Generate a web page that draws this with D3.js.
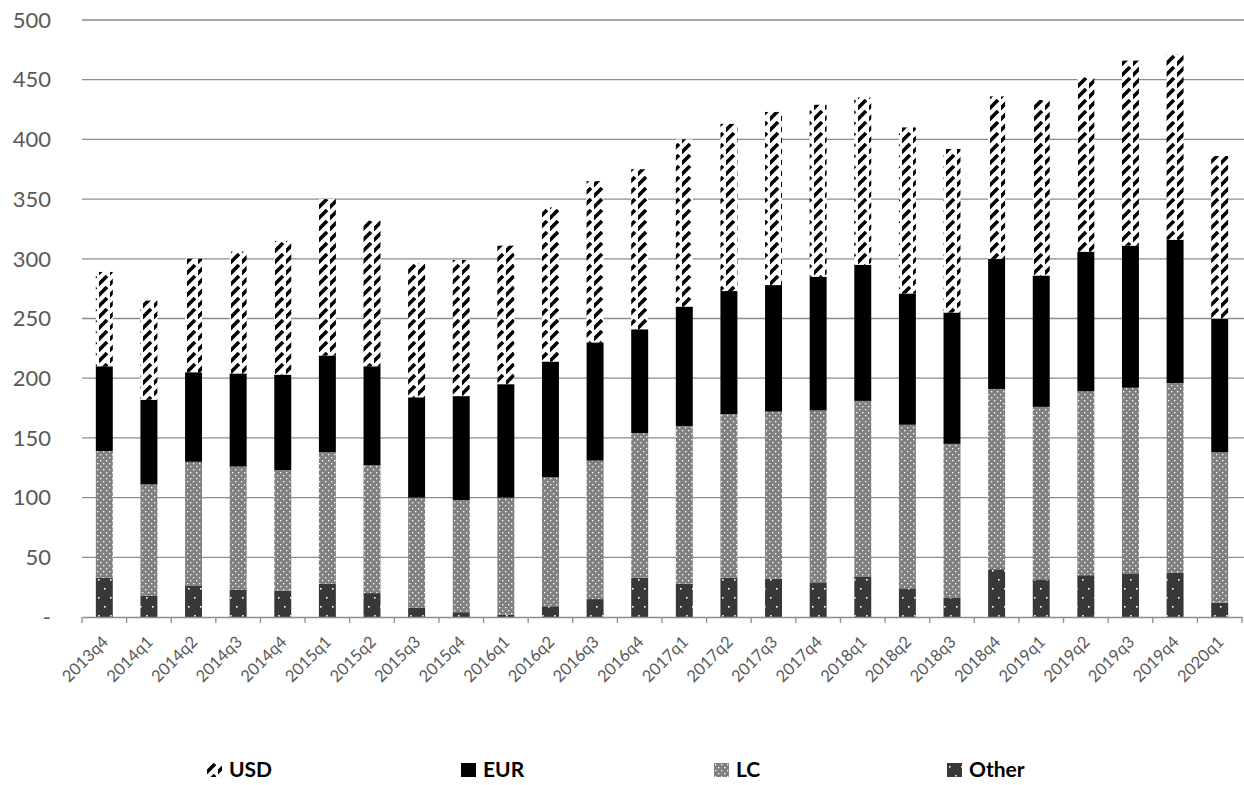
<!DOCTYPE html>
<html>
<head>
<meta charset="utf-8">
<script src="https://cdn.jsdelivr.net/npm/d3@7"></script>
<style>
  body { margin: 0; background: #fff; }
  svg { display: block; font-family: Lato, "Open Sans", sans-serif; }
</style>
</head>
<body>
<div id="chart"></div>
<script>
// Quarters on the x axis
const quarters = ['2013q4','2014q1','2014q2','2014q3','2014q4','2015q1','2015q2','2015q3','2015q4',
  '2016q1','2016q2','2016q3','2016q4','2017q1','2017q2','2017q3','2017q4','2018q1','2018q2',
  '2018q3','2018q4','2019q1','2019q2','2019q3','2019q4','2020q1'];

// Segment values (stacked bottom to top: Other, LC, EUR, USD)
const otherVals = [33,18,26,23,22,28,20,8,4,2,9,15,33,28,33,32,29,34,24,16,40,31,35,36,37,12];
const lcVals    = [106,93,104,103,101,110,107,92,94,98,108,116,121,132,137,140,144,147,137,129,151,145,154,156,159,126];
const eurVals   = [71,71,75,78,80,81,83,84,87,95,97,99,87,100,103,106,112,114,110,110,109,110,117,119,120,112];
const usdVals   = [79,83,95,102,112,131,122,112,114,116,129,135,134,140,140,145,144,140,139,137,136,147,146,155,155,136];

const yTicks = [0,50,100,150,200,250,300,350,400,450,500];
const seriesKeys = ['Other','LC','EUR','USD'];
const legendOrder = ['USD','EUR','LC','Other'];

const width = 1244, height = 785;
const margin = {left: 82, right: 2, top: 20, bottom: 168};

const svg = d3.select('#chart').append('svg')
    .attr('width', width)
    .attr('height', height);

// Fill patterns
const defs = svg.append('defs');

const usdPat = defs.append('pattern')
    .attr('id', 'pat-usd')
    .attr('patternUnits', 'userSpaceOnUse')
    .attr('width', 11).attr('height', 11);
usdPat.append('rect').attr('width', 11).attr('height', 11).attr('fill', '#fff');
usdPat.append('path')
    .attr('d', 'M-1,10 L8,1 M8,23 L17,14 M-3,1 L-1,-1')
    .attr('stroke', '#000').attr('stroke-width', 3.6).attr('stroke-linecap', 'butt');

const lcPat = defs.append('pattern')
    .attr('id', 'pat-lc')
    .attr('patternUnits', 'userSpaceOnUse')
    .attr('width', 6).attr('height', 6);
lcPat.append('rect').attr('width', 6).attr('height', 6).attr('fill', '#808080');
lcPat.append('rect').attr('x', 1).attr('y', 1).attr('width', 1.3).attr('height', 1.3).attr('fill', '#fff');
lcPat.append('rect').attr('x', 4).attr('y', 4).attr('width', 1.3).attr('height', 1.3).attr('fill', '#fff');

const otherPat = defs.append('pattern')
    .attr('id', 'pat-other')
    .attr('patternUnits', 'userSpaceOnUse')
    .attr('width', 12).attr('height', 18);
otherPat.append('rect').attr('width', 12).attr('height', 18).attr('fill', '#3a3836');
otherPat.append('rect').attr('x', 2).attr('y', 3).attr('width', 1.6).attr('height', 1.6).attr('fill', '#fff');
otherPat.append('rect').attr('x', 8).attr('y', 12).attr('width', 1.6).attr('height', 1.6).attr('fill', '#fff');

const fills = {
    USD: 'url(#pat-usd)',
    EUR: '#000',
    LC: 'url(#pat-lc)',
    Other: 'url(#pat-other)'
};

// Scales
const x = d3.scaleBand()
    .domain(quarters)
    .range([margin.left, width - margin.right])
    .paddingInner(0.62)
    .paddingOuter(0.31);

const y = d3.scaleLinear()
    .domain([0, 500])
    .range([height - margin.bottom, margin.top]);

// Gridlines
svg.append('g')
    .selectAll('line')
    .data(yTicks.filter(d => d > 0))
    .enter().append('line')
    .attr('x1', margin.left)
    .attr('x2', width)
    .attr('y1', d => y(d))
    .attr('y2', d => y(d))
    .attr('stroke', '#8c8c8c')
    .attr('stroke-width', 1.3);

// Y axis labels
svg.append('g')
    .selectAll('text')
    .data(yTicks)
    .enter().append('text')
    .attr('x', 51)
    .attr('y', d => y(d))
    .attr('dy', '0.35em')
    .attr('text-anchor', 'end')
    .attr('font-size', 22)
    .attr('fill', '#595959')
    .text(d => d === 0 ? '-' : d);

// Stack data
const table = quarters.map((q, i) => ({
    quarter: q,
    Other: otherVals[i],
    LC: lcVals[i],
    EUR: eurVals[i],
    USD: usdVals[i]
}));
const stacked = d3.stack().keys(seriesKeys)(table);

svg.append('g')
    .selectAll('g')
    .data(stacked)
    .enter().append('g')
    .attr('fill', d => fills[d.key])
    .selectAll('rect')
    .data(d => d)
    .enter().append('rect')
    .attr('x', d => x(d.data.quarter))
    .attr('width', x.bandwidth())
    .attr('y', d => y(d[1]))
    .attr('height', d => y(d[0]) - y(d[1]));

// X axis
const xAxis = svg.append('g')
    .attr('transform', `translate(0,${y(0)})`)
    .call(d3.axisBottom(x).tickSize(0).tickFormat(''));
xAxis.select('.domain').attr('stroke', '#8c8c8c').attr('stroke-width', 1.3);

// tick marks at band boundaries
const step = x.step();
const boundaries = quarters.map(q => x(q) - (step - x.bandwidth()) / 2);
boundaries.push(width - margin.right);
svg.append('g')
    .selectAll('line')
    .data(boundaries)
    .enter().append('line')
    .attr('x1', d => d).attr('x2', d => d)
    .attr('y1', y(0)).attr('y2', y(0) + 6)
    .attr('stroke', '#8c8c8c')
    .attr('stroke-width', 1.3);

svg.append('g')
    .selectAll('text')
    .data(quarters)
    .enter().append('text')
    .attr('transform', d => `translate(${x(d) + x.bandwidth() / 2 + 5},${y(0) + 26}) rotate(-45)`)
    .attr('text-anchor', 'end')
    .attr('font-size', 16.5)
    .attr('fill', '#595959')
    .text(d => d);

// Legend
const legendX = [207, 461, 714, 947];
const legend = svg.append('g');
legendOrder.forEach((k, i) => {
    const g = legend.append('g').attr('transform', `translate(${legendX[i]},763)`);
    g.append('rect')
        .attr('width', 15).attr('height', 14)
        .attr('fill', fills[k]);
    g.append('text')
        .attr('x', 22)
        .attr('y', 14)
        .attr('font-size', 21)
        .attr('font-weight', 'bold')
        .attr('fill', '#000')
        .text(k);
});
</script>
</body>
</html>
